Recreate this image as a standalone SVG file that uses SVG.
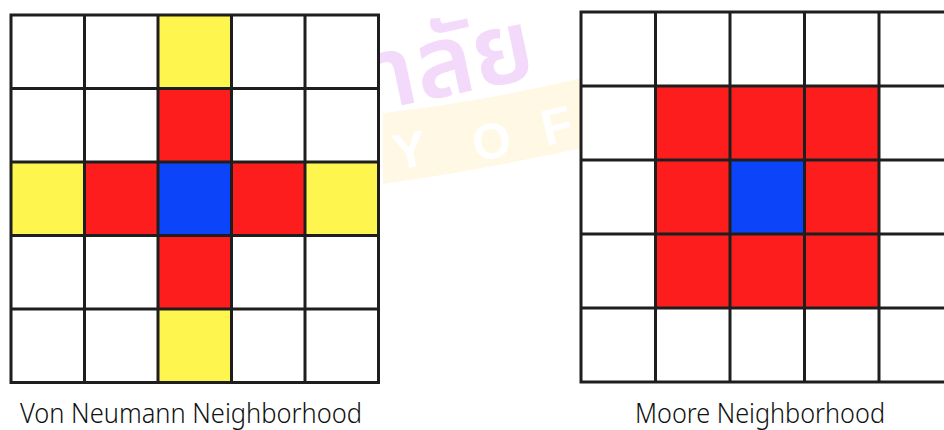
<svg xmlns="http://www.w3.org/2000/svg" width="944" height="430" viewBox="0 0 944 430">
  <style>
    .y { fill: #FEF64F; }
    .r { fill: #FE1D1D; }
    .b { fill: #0B44F9; }
    .w { fill: #FFFFFF; }
    .grid { fill: none; stroke: #1E1E1E; stroke-width: 3; stroke-linecap: square; }
    .label { font-family: "Noto Sans", "Liberation Sans", sans-serif; font-size: 27px; font-weight: 300; fill: #111111; }
    .wm-th { font-family: "Noto Sans Thai", "Noto Sans", "DejaVu Sans", sans-serif; font-size: 100px; font-weight: 600; fill: #F3D9FA; }
    .wm-en { font-family: "Liberation Sans", sans-serif; font-size: 50px; font-weight: bold; fill: #FFFFFF; }
  </style>
  <rect x="0" y="0" width="944" height="430" fill="#FFFFFF"/>

  <g id="watermark">
    <path d="M383 113 Q480 102 582 78 L582 148 Q480 170 383 184 Z" fill="#FFF8E4"/>
    <text class="wm-en" transform="translate(396 170) rotate(-10)">Y</text>
    <text class="wm-en" transform="translate(476 162) rotate(-12)">O</text>
    <text class="wm-en" transform="translate(546 146) rotate(-14)">F</text>
    <text class="wm-th" transform="translate(380 110) rotate(-12)">าลัย</text>
  </g>

  <g id="von-neumann">
    <rect class="w" x="11" y="15" width="367.5" height="367.5"/>
    <rect class="y" x="158" y="15" width="73.5" height="73.5"/>
    <rect class="r" x="158" y="88.5" width="73.5" height="73.5"/>
    <rect class="y" x="11" y="162" width="73.5" height="73.5"/>
    <rect class="r" x="84.5" y="162" width="73.5" height="73.5"/>
    <rect class="b" x="158" y="162" width="73.5" height="73.5"/>
    <rect class="r" x="231.5" y="162" width="73.5" height="73.5"/>
    <rect class="y" x="305" y="162" width="73.5" height="73.5"/>
    <rect class="r" x="158" y="235.5" width="73.5" height="73.5"/>
    <rect class="y" x="158" y="309" width="73.5" height="73.5"/>
    <path class="grid" d="M11 15 H378.5 V382.5 H11 Z M84.5 15 V382.5 M158 15 V382.5 M231.5 15 V382.5 M305 15 V382.5 M11 88.5 H378.5 M11 162 H378.5 M11 235.5 H378.5 M11 309 H378.5"/>
    <text class="label" x="191" y="423" text-anchor="middle" textLength="342" lengthAdjust="spacingAndGlyphs">Von Neumann Neighborhood</text>
  </g>

  <g id="moore">
    <rect class="w" x="581" y="12" width="372.5" height="370"/>
    <rect class="r" x="655.5" y="86" width="223.5" height="222"/>
    <rect class="b" x="730" y="160" width="74.5" height="74"/>
    <path class="grid" d="M953.5 12 H581 V382 H953.5 M655.5 12 V382 M730 12 V382 M804.5 12 V382 M879 12 V382 M581 86 H944 M581 160 H944 M581 234 H944 M581 308 H944"/>
    <text class="label" x="760" y="423" text-anchor="middle" textLength="250" lengthAdjust="spacingAndGlyphs">Moore Neighborhood</text>
  </g>
</svg>
